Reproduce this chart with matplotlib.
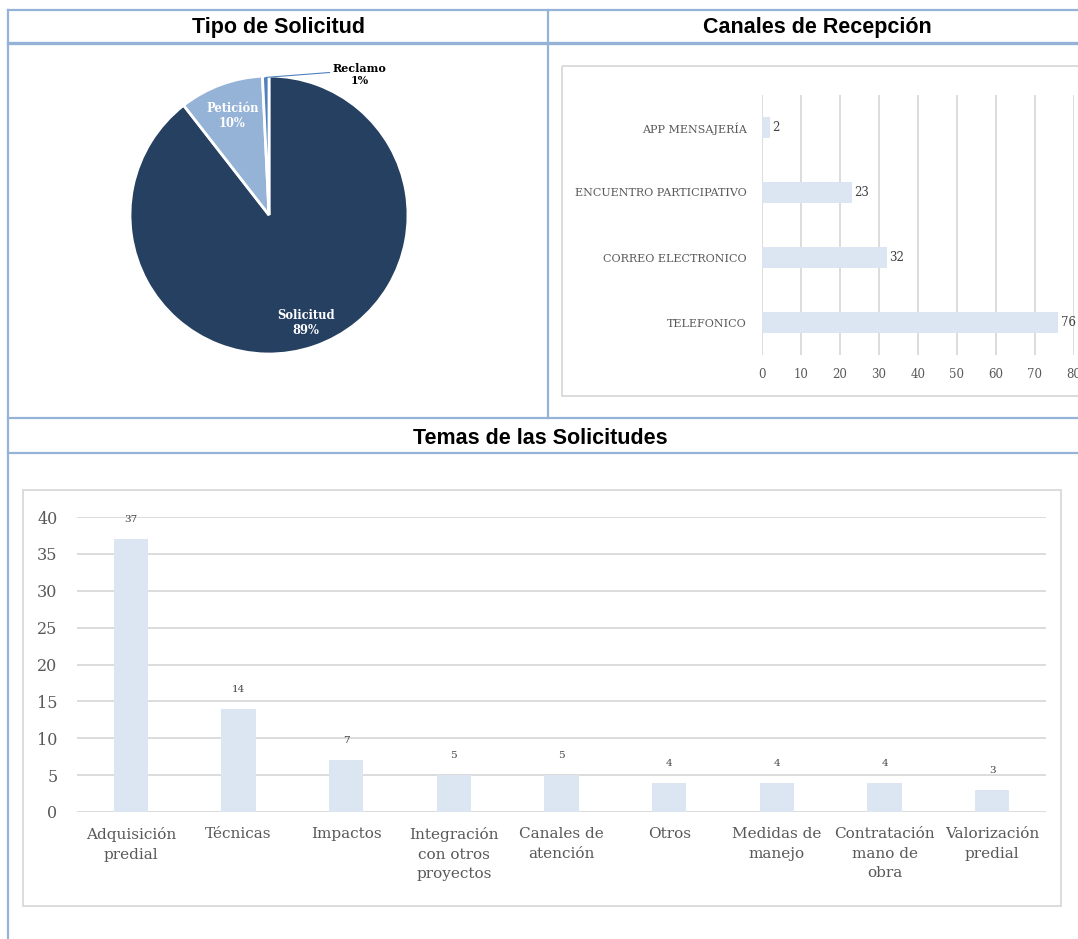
import matplotlib
matplotlib.use('Agg')
import matplotlib.pyplot as plt
from matplotlib.patches import Rectangle
import numpy as np

# Datos
tipo_labels = ['Solicitud', 'Petición', 'Reclamo']
tipo_valores = [119, 13, 1]
tipo_colores = ['#264061', '#95B3D7', '#4F81BD']

canales = ['APP MENSAJERÍA', 'ENCUENTRO PARTICIPATIVO', 'CORREO ELECTRONICO', 'TELEFONICO']
canales_valores = [2, 23, 32, 76]
canales_ticks = [0, 10, 20, 30, 40, 50, 60, 70, 80]

temas = ['Adquisición\npredial', 'Técnicas', 'Impactos', 'Integración\ncon otros\nproyectos',
         'Canales de\natención', 'Otros', 'Medidas de\nmanejo', 'Contratación\nmano de\nobra',
         'Valorización\npredial']
temas_valores = [37, 14, 7, 5, 5, 4, 4, 4, 3]
temas_ticks = [0, 5, 10, 15, 20, 25, 30, 35, 40]

W, H = 1078, 939
SERIF = 'DejaVu Serif'
TITULO = ['Liberation Sans Narrow', 'Liberation Sans', 'DejaVu Sans']
AZUL_TABLA = '#95B3D7'
GRIS_LINEA = '#D9D9D9'
GRIS_TEXTO = '#595959'
BARRA = '#DCE6F2'


def rect(x0, y0, x1, y1):
    # pixeles (origen arriba-izquierda) a coordenadas de figura
    return [x0 / W, 1 - y1 / H, (x1 - x0) / W, (y1 - y0) / H]


fig = plt.figure(figsize=(W / 100, H / 100), dpi=100)

# Fondo: tabla y marcos
fondo = fig.add_axes([0, 0, 1, 1])
fondo.set_xlim(0, W)
fondo.set_ylim(H, 0)
fondo.axis('off')

fondo.plot([8, 8], [10, H], color=AZUL_TABLA, lw=1.6)
fondo.plot([8, W], [10, 10], color=AZUL_TABLA, lw=1.6)
fondo.plot([8, W], [43, 43], color=AZUL_TABLA, lw=2.4)
fondo.plot([548, 548], [10, 418], color=AZUL_TABLA, lw=1.6)
fondo.plot([8, W], [418, 418], color=AZUL_TABLA, lw=1.6)
fondo.plot([8, W], [453, 453], color=AZUL_TABLA, lw=1.6)

fondo.add_patch(Rectangle((562, 66), 560, 330, fill=False, edgecolor=GRIS_LINEA, lw=1.3))
fondo.add_patch(Rectangle((23, 490), 1038, 416, fill=False, edgecolor=GRIS_LINEA, lw=1.3))

fondo.text(278, 28, 'Tipo de Solicitud', family=TITULO, fontweight='bold', fontsize=15.5,
           ha='center', va='center')
fondo.text(817, 28, 'Canales de Recepción', family=TITULO, fontweight='bold', fontsize=15.5,
           ha='center', va='center')
fondo.text(540, 438, 'Temas de las Solicitudes', family=TITULO, fontweight='bold', fontsize=15.5,
           ha='center', va='center')

# Grafico circular
ax1 = fig.add_axes(rect(130, 76, 408, 354))
wedges, _ = ax1.pie(tipo_valores, colors=tipo_colores, startangle=90, counterclock=False,
                    radius=1, wedgeprops=dict(edgecolor='white', linewidth=2))
ax1.set_xlim(-1, 1)
ax1.set_ylim(-1, 1)
total = sum(tipo_valores)
dist = [0.82, 0.76]
for i, w in enumerate(wedges):
    pct = round(tipo_valores[i] / total * 100)
    ang = np.deg2rad((w.theta1 + w.theta2) / 2)
    if i < 2:
        ax1.text(dist[i] * np.cos(ang), dist[i] * np.sin(ang), f'{tipo_labels[i]}\n{pct}%',
                 family=SERIF, fontweight='bold', fontsize=8.3, color='white',
                 ha='center', va='center', linespacing=1.15)
    else:
        x0, y0 = np.cos(ang), np.sin(ang)
        ax1.annotate(f'{tipo_labels[i]}\n{pct}%', xy=(x0 * 0.99, y0 * 0.99), xytext=(0.65, 1.01),
                     family=SERIF, fontweight='bold', fontsize=8, color='black',
                     ha='center', va='center', linespacing=1.15, annotation_clip=False,
                     arrowprops=dict(arrowstyle='-', color='#4F81BD', lw=0.8,
                                     shrinkA=0, shrinkB=0, relpos=(0, 0.6)))

# Barras horizontales
ax2 = fig.add_axes(rect(762, 95, 1074, 355))
ax2.patch.set_alpha(0)
ypos = np.arange(len(canales))
barras = ax2.barh(ypos, canales_valores, height=0.31, color=BARRA, zorder=2)
ax2.set_ylim(len(canales) - 0.5, -0.5)
ax2.set_xlim(0, 80)
ax2.set_xticks(canales_ticks)
ax2.set_yticks(ypos)
ax2.set_yticklabels(canales)
ax2.xaxis.grid(True, color=GRIS_LINEA, lw=1.3, zorder=0)
ax2.set_axisbelow(True)
for s in ax2.spines.values():
    s.set_visible(False)
ax2.tick_params(length=0, colors=GRIS_TEXTO, labelsize=8)
ax2.tick_params(axis='x', pad=9, labelsize=8.5)
ax2.tick_params(axis='y', pad=11)
for lab in ax2.get_xticklabels() + ax2.get_yticklabels():
    lab.set_family(SERIF)
ax2.bar_label(barras, padding=2, family=SERIF, fontsize=8.5, color='#404040', clip_on=False)

# Barras verticales
ax3 = fig.add_axes(rect(77, 517, 1046, 812))
ax3.patch.set_alpha(0)
xpos = np.arange(len(temas))
barras3 = ax3.bar(xpos, temas_valores, width=0.32, color=BARRA, zorder=2)
ax3.set_xlim(-0.5, len(temas) - 0.5)
ax3.set_ylim(0, 40)
ax3.set_yticks(temas_ticks)
ax3.set_xticks(xpos)
ax3.set_xticklabels(temas, linespacing=1.5)
ax3.yaxis.grid(True, color=GRIS_LINEA, lw=1.3, zorder=0)
ax3.set_axisbelow(True)
for s in ax3.spines.values():
    s.set_visible(False)
ax3.tick_params(length=0, colors=GRIS_TEXTO)
ax3.tick_params(axis='y', pad=14, labelsize=11.5)
ax3.tick_params(axis='x', pad=11, labelsize=11)
for lab in ax3.get_xticklabels() + ax3.get_yticklabels():
    lab.set_family(SERIF)
for b, v in zip(barras3, temas_valores):
    ax3.annotate(str(v), xy=(b.get_x() + b.get_width() / 2, v), xytext=(0, 14),
                 textcoords='offset points', ha='center', va='center',
                 family=SERIF, fontsize=7.5, color='#404040')

fig.savefig('out.png', dpi=100)
